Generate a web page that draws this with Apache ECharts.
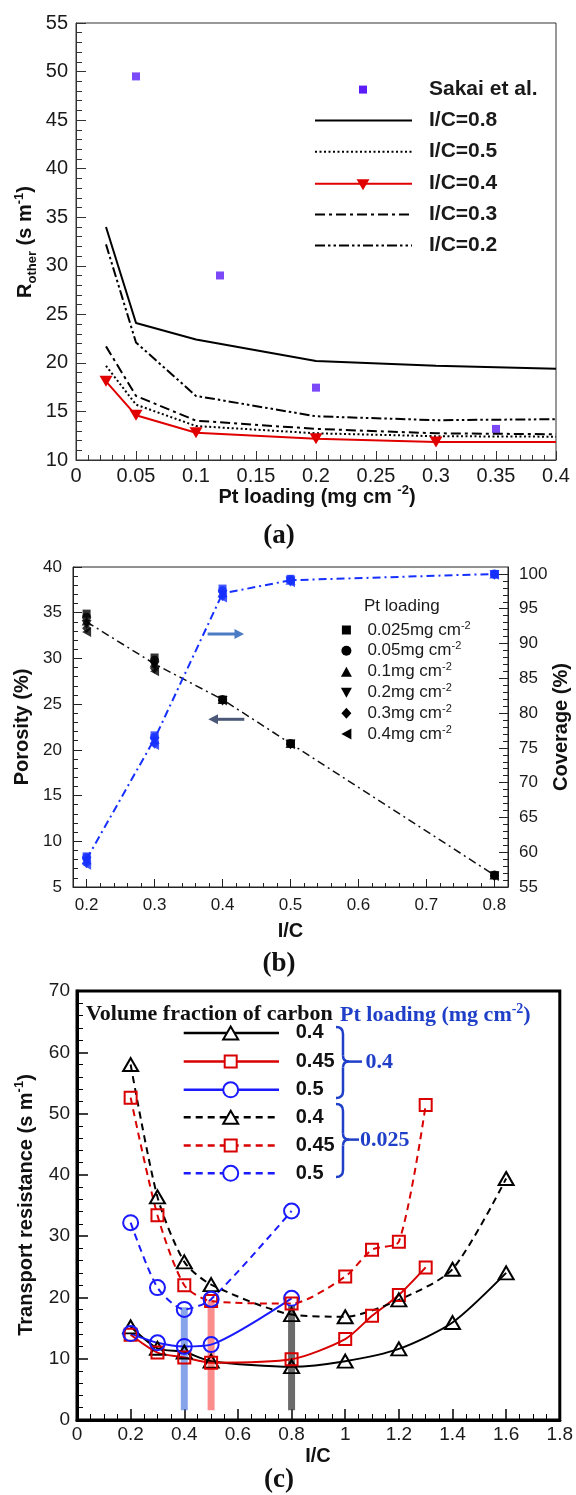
<!DOCTYPE html>
<html><head><meta charset="utf-8">
<script src="https://cdn.jsdelivr.net/npm/echarts@6/dist/echarts.min.js"></script>
<style>html,body{margin:0;padding:0;background:#fff}#c{width:576px;height:1495px}</style>
</head><body><div id="c"></div>
<script>
// ================= Panel (a) data =================
const ptLoadingA = [0.025, 0.05, 0.1, 0.2, 0.3, 0.4];
const icA08 = [34.0, 24.1, 22.4, 20.2, 19.7, 19.4];
const icA05 = [19.7, 15.7, 13.5, 12.75, 12.45, 12.4];
const icA04 = [18.1, 14.6, 12.8, 12.2, 11.85, 11.85];
const icA03 = [21.7, 16.6, 14.05, 13.2, 12.75, 12.65];
const icA02 = [32.2, 22.1, 16.6, 14.5, 14.1, 14.2];
const sakaiX = [0.05, 0.12, 0.2, 0.35];
const sakaiY = [49.5, 29.0, 17.45, 13.2];
const legendA = ['Sakai et al.', 'I/C=0.8', 'I/C=0.5', 'I/C=0.4', 'I/C=0.3', 'I/C=0.2'];

// ================= Panel (b) data =================
const icB = [0.2, 0.3, 0.4, 0.5, 0.8];
const loadingLabelsB = ['0.025', '0.05', '0.1', '0.2', '0.3', '0.4'];
const poro025 = [34.9, 30.1, 25.5, 20.7, 6.3];
const poro05  = [34.5, 29.8, 25.5, 20.7, 6.3];
const poro01  = [34.1, 29.5, 25.5, 20.7, 6.3];
const poro02  = [33.7, 29.2, 25.4, 20.6, 6.2];
const poro03  = [33.3, 28.9, 25.4, 20.6, 6.2];
const poro04  = [32.9, 28.6, 25.4, 20.6, 6.2];
const cov025 = [59.4, 76.8, 97.9, 99.3, 100];
const cov05  = [59.2, 76.5, 97.6, 99.2, 100];
const cov01  = [58.9, 76.2, 97.3, 99.1, 100];
const cov02  = [58.7, 75.9, 97.0, 99.0, 99.9];
const cov03  = [58.4, 75.6, 96.8, 98.9, 99.9];
const cov04  = [58.2, 75.4, 96.6, 98.8, 99.9];
const porosityTrend = [34.0, 29.4, 25.5, 20.7, 6.3];
const coverageTrend = [59.0, 76.3, 97.2, 99.1, 100];
const xTicksB = [0.2, 0.3, 0.4, 0.5, 0.6, 0.7, 0.8];
const xMinorB = [0.22, 0.24, 0.26, 0.28, 0.32, 0.34, 0.36, 0.38, 0.42, 0.44, 0.46, 0.48,
  0.52, 0.54, 0.56, 0.58, 0.62, 0.64, 0.66, 0.68, 0.72, 0.74, 0.76, 0.78];
const yRightTicksB = [55, 60, 65, 70, 75, 80, 85, 90, 95, 100];
const yRightMinorB = [56, 57, 58, 59, 61, 62, 63, 64, 66, 67, 68, 69, 71, 72, 73, 74, 76, 77, 78, 79,
  81, 82, 83, 84, 86, 87, 88, 89, 91, 92, 93, 94, 96, 97, 98, 99];

// ================= Panel (c) data =================
const icCBlack = [0.2, 0.3, 0.4, 0.5, 0.8, 1.0, 1.2, 1.4, 1.6];
const icCRed   = [0.2, 0.3, 0.4, 0.5, 0.8, 1.0, 1.1, 1.2, 1.3];
const icCBlue  = [0.2, 0.3, 0.4, 0.5, 0.8];
const solidBlack = [15.2, 11.7, 11.1, 9.6, 8.7, 9.6, 11.6, 15.9, 24.0];
const solidRed   = [13.9, 11.0, 10.2, 9.35, 9.9, 13.2, 17.0, 20.4, 24.9];
const solidBlue  = [14.1, 12.6, 12.0, 12.3, 19.85];
const dashBlack  = [58.0, 36.4, 25.8, 22.1, 17.2, 16.85, 19.6, 24.6, 39.4];
const dashRed    = [52.6, 33.4, 22.0, 19.4, 19.0, 23.4, 27.8, 29.1, 51.4];
const dashBlue   = [32.2, 21.6, 18.05, 19.7, 34.1];
const markerBars = [[0.4, 1.6, 18.4], [0.5, 1.6, 19.6], [0.8, 1.6, 18.6]];
const legendC = ['0.4', '0.45', '0.5', '0.4', '0.45', '0.5'];

// ================= helpers =================
const SANS = '"Liberation Sans", Arial, sans-serif';
const SERIF = '"Liberation Serif", "Times New Roman", serif';
const zip = (xs, ys) => xs.map((x, i) => [x, ys[i]]);
const DOWN = 'path://M0,0L10,0L5,8.66Z';
const LEFT = 'path://M8.66,0L8.66,10L0,5Z';
const DASHDOT = [10, 4, 3, 4];
const DASHDOTDOT = [10, 3, 2.5, 3, 2.5, 3];
const DOTTED = [2, 2.5];
const RED = '#e00000', SAKAI = '#5b1cf7', BLUEB = '#1530ff';
const CRED = '#d80000', CBLUE = '#1a1aff';
const BRACE = '#1f3fc8';

const G = [];
function gLine(x1, y1, x2, y2, color, w, dash) {
  G.push({type: 'line', z: 100, shape: {x1, y1, x2, y2},
    style: {stroke: color, lineWidth: w, lineDash: dash || null}});
}
function gCurve(x1, y1, cx, cy, x2, y2, color, w) {
  G.push({type: 'bezierCurve', z: 100, shape: {x1, y1, x2, y2, cpx1: cx, cpy1: cy},
    style: {stroke: color, lineWidth: w, fill: null}});
}
function gText(x, y, text, st, rot) {
  G.push({type: 'text', z: 100, x, y, rotation: rot || 0,
    style: Object.assign({text, verticalAlign: 'middle', align: 'left'}, st)});
}
function gSym(kind, cx, cy, w, h, fill, stroke, lw) {
  let el;
  const hw = w / 2, hh = h / 2;
  if (kind === 'rect') el = {type: 'rect', shape: {x: cx - hw, y: cy - hh, width: w, height: h}};
  else if (kind === 'circle') el = {type: 'circle', shape: {cx, cy, r: hw}};
  else {
    let pts;
    if (kind === 'up') pts = [[cx, cy - hh], [cx + hw, cy + hh], [cx - hw, cy + hh]];
    else if (kind === 'down') pts = [[cx - hw, cy - hh], [cx + hw, cy - hh], [cx, cy + hh]];
    else if (kind === 'left') pts = [[cx + hw, cy - hh], [cx + hw, cy + hh], [cx - hw, cy]];
    else pts = [[cx, cy - hh], [cx + hw, cy], [cx, cy + hh], [cx - hw, cy]];
    el = {type: 'polygon', shape: {points: pts}};
  }
  el.z = 101;
  el.style = {fill: fill, stroke: stroke || null, lineWidth: lw || 0};
  G.push(el);
}
const richAxis = {
  b: {fontFamily: SANS, fontWeight: 'bold', fontSize: 20, lineHeight: 26, fill: '#111'},
  sub: {fontFamily: SANS, fontWeight: 'bold', fontSize: 13, lineHeight: 13, verticalAlign: 'bottom', fill: '#111'},
  sup: {fontFamily: SANS, fontWeight: 'bold', fontSize: 13, lineHeight: 13, verticalAlign: 'top', fill: '#111'}
};
const boldTitle = {fontFamily: SANS, fontWeight: 'bold', fontSize: 20, fill: '#111', align: 'center'};
const panelTag = {fontFamily: SERIF, fontWeight: 'bold', fontSize: 27, fill: '#111', align: 'center'};

// ---------- axis titles & panel tags ----------
gText(25.5, 242, '{b|R}{sub|other}{b| (s m}{sup|-1}{b|)}', {rich: richAxis, align: 'center'}, Math.PI / 2);
gText(317, 497, '{b|Pt loading (mg cm }{sup|-2}{b|)}', {rich: richAxis, align: 'center'});
gText(279, 536, '(a)', panelTag);
gText(22, 727, 'Porosity (%)', boldTitle, Math.PI / 2);
gText(561, 727, 'Coverage (%)', boldTitle, Math.PI / 2);
gText(290.5, 931, 'I/C', boldTitle);
gText(279, 964, '(b)', panelTag);
gText(26, 1205, '{b|Transport resistance (s m}{sup|-1}{b|)}', {rich: richAxis, align: 'center'}, Math.PI / 2);
gText(318, 1456, 'I/C', boldTitle);
gText(279, 1480, '(c)', panelTag);

// ---------- legend (a) ----------
const legAY = [89.6, 120.5, 151.7, 183.7, 214.5, 245.4];
const legAText = {fontFamily: SANS, fontWeight: 'bold', fontSize: 21, fill: '#1a1a1a'};
gSym('rect', 363, legAY[0], 8, 8, SAKAI);
gLine(315, legAY[1], 412, legAY[1], '#000', 2);
gLine(315, legAY[2], 412, legAY[2], '#000', 2, DOTTED);
gLine(315, legAY[3], 412, legAY[3], RED, 2);
gSym('down', 363, legAY[3] + 1, 13, 11, RED);
gLine(315, legAY[4], 412, legAY[4], '#000', 2, DASHDOT);
gLine(315, legAY[5], 412, legAY[5], '#000', 2, DASHDOTDOT);
legendA.forEach((t, i) => gText(429, legAY[i], t, legAText));

// ---------- legend (b) ----------
const legBY = [630, 650.7, 671.7, 692.7, 713.3, 734];
const legBKinds = ['rect', 'circle', 'up', 'down', 'diamond', 'left'];
const legBSizes = [[9, 9], [10, 10], [11, 10], [11, 10], [10, 11], [10, 11]];
const richB = {
  t: {fontFamily: SANS, fontSize: 17, lineHeight: 20, fill: '#1a1a1a'},
  s: {fontFamily: SANS, fontSize: 11, lineHeight: 11, verticalAlign: 'top', fill: '#1a1a1a'}
};
gText(364, 606.7, 'Pt loading', {fontFamily: SANS, fontSize: 17, fill: '#1a1a1a'});
loadingLabelsB.forEach((t, i) => {
  gSym(legBKinds[i], 346.4, legBY[i], legBSizes[i][0], legBSizes[i][1], '#000');
  gText(367.4, legBY[i], '{t|' + t + 'mg cm}{s|-2}', {rich: richB});
});
// arrows (b)
gLine(207.6, 634, 236, 634, '#4a7bc4', 3);
G.push({type: 'polygon', z: 100, shape: {points: [[244, 634], [234.5, 629], [234.5, 639]]}, style: {fill: '#4a7bc4'}});
gLine(217, 719.3, 244.3, 719.3, '#4b5878', 3);
G.push({type: 'polygon', z: 100, shape: {points: [[208.3, 719.3], [218, 714.3], [218, 724.3]]}, style: {fill: '#4b5878'}});

// ---------- legend (c) ----------
const legCY = [1032.9, 1061.6, 1089.8, 1117.3, 1145.5, 1173.3];
const legCColors = ['#000', CRED, CBLUE, '#000', CRED, CBLUE];
const legCKinds = ['up', 'rect', 'circle', 'up', 'rect', 'circle'];
const legCSizes = [[15, 13], [12, 12], [15, 15], [15, 13], [12, 12], [15, 15]];
const richC = {
  t: {fontFamily: SERIF, fontWeight: 'bold', fontSize: 22, lineHeight: 26, fill: BRACE},
  s: {fontFamily: SERIF, fontWeight: 'bold', fontSize: 14, lineHeight: 14, verticalAlign: 'top', fill: BRACE}
};
gText(86, 1014, 'Volume fraction of carbon', {fontFamily: SERIF, fontWeight: 'bold', fontSize: 22, fill: '#111'});
gText(340, 1015, '{t|Pt loading (mg cm}{s|-2}{t|)}', {rich: richC});
legendC.forEach((t, i) => {
  gLine(183.7, legCY[i], 279, legCY[i], legCColors[i], 2.5, i >= 3 ? [7, 5] : null);
  gSym(legCKinds[i], 230.7, legCY[i], legCSizes[i][0], legCSizes[i][1], '#fff', legCColors[i], 2);
  gText(295.7, legCY[i], t, {fontFamily: SANS, fontWeight: 'bold', fontSize: 20, fill: '#111'});
});
// braces
function brace(top, tip, bot, xL, xM, xT) {
  gCurve(xL, top, xM, top, xM, top + 7, BRACE, 2.5);
  gLine(xM, top + 7, xM, tip - 6, BRACE, 2.5);
  gCurve(xM, tip - 6, xM, tip, xT, tip, BRACE, 2.5);
  gCurve(xT, tip, xM, tip, xM, tip + 6, BRACE, 2.5);
  gLine(xM, tip + 6, xM, bot - 7, BRACE, 2.5);
  gCurve(xM, bot - 7, xM, bot, xL, bot, BRACE, 2.5);
}
brace(1027, 1061.6, 1098, 336, 343, 349);
brace(1104, 1139.6, 1177, 336, 343, 349);
gLine(349, 1061.6, 362, 1061.6, BRACE, 2.5);
gLine(349, 1139.6, 359, 1139.6, BRACE, 2.5);
gText(365.5, 1062, '0.4', {fontFamily: SERIF, fontWeight: 'bold', fontSize: 22, fill: BRACE});
gText(360, 1140, '0.025', {fontFamily: SERIF, fontWeight: 'bold', fontSize: 22, fill: BRACE});

// ================= axes =================
const lab = (size, margin) => ({fontFamily: SANS, fontSize: size, color: '#1a1a1a', margin});
const xAxis = [
  {gridIndex: 0, type: 'value', min: 0, max: 0.4, interval: 0.05,
   axisLine: {lineStyle: {color: '#333', width: 1}},
   axisTick: {inside: true, length: 9, lineStyle: {color: '#333'}},
   minorTick: {show: true, splitNumber: 5, length: 5, lineStyle: {color: '#333'}},
   axisLabel: lab(20, 6), splitLine: {show: false}},
  {gridIndex: 1, type: 'value', min: 0.18, max: 0.82, position: 'bottom',
   axisLine: {lineStyle: {color: '#222', width: 1}},
   axisTick: {inside: true, length: 8, customValues: xTicksB, lineStyle: {color: '#222'}},
   axisLabel: Object.assign({customValues: xTicksB}, lab(17, 10)), splitLine: {show: false}},
  {gridIndex: 1, type: 'value', min: 0.18, max: 0.82, position: 'bottom',
   axisLine: {show: false},
   axisTick: {inside: true, length: 4, customValues: xMinorB, lineStyle: {color: '#222'}},
   axisLabel: {show: false}, splitLine: {show: false}},
  {gridIndex: 2, type: 'value', min: 0, max: 1.8, interval: 0.2,
   axisLine: {lineStyle: {color: '#000', width: 3}},
   axisTick: {inside: true, length: 11, lineStyle: {color: '#000', width: 1.5}},
   minorTick: {show: true, splitNumber: 4, length: 6, lineStyle: {color: '#000', width: 1}},
   axisLabel: lab(19, 5), splitLine: {show: false}}
];
const yAxis = [
  {gridIndex: 0, type: 'value', min: 10, max: 55, interval: 5,
   axisLine: {show: true, lineStyle: {color: '#333', width: 1}},
   axisTick: {show: true, inside: true, length: 10, lineStyle: {color: '#333'}},
   minorTick: {show: true, splitNumber: 5, length: 6, lineStyle: {color: '#333'}},
   axisLabel: lab(20, 8), splitLine: {show: false}},
  {gridIndex: 1, type: 'value', min: 5, max: 40, interval: 5, position: 'left',
   axisLine: {show: true, lineStyle: {color: '#222', width: 1}},
   axisTick: {show: true, inside: true, length: 9, lineStyle: {color: '#222'}},
   minorTick: {show: true, splitNumber: 5, length: 5, lineStyle: {color: '#222'}},
   axisLabel: lab(17, 11), splitLine: {show: false}},
  {gridIndex: 1, type: 'value', min: 55, max: 101, position: 'right',
   axisLine: {show: true, lineStyle: {color: '#222', width: 1}},
   axisTick: {show: true, inside: true, length: 9, customValues: yRightTicksB, lineStyle: {color: '#222'}},
   axisLabel: Object.assign({customValues: yRightTicksB}, lab(17, 11)), splitLine: {show: false}},
  {gridIndex: 1, type: 'value', min: 55, max: 101, position: 'right',
   axisLine: {show: false},
   axisTick: {show: true, inside: true, length: 5, customValues: yRightMinorB, lineStyle: {color: '#222'}},
   axisLabel: {show: false}, splitLine: {show: false}},
  {gridIndex: 2, type: 'value', min: 0, max: 70, interval: 10,
   axisLine: {show: true, lineStyle: {color: '#000', width: 3}},
   axisTick: {show: true, inside: true, length: 11, lineStyle: {color: '#000', width: 1.5}},
   minorTick: {show: true, splitNumber: 5, length: 6, lineStyle: {color: '#000', width: 1}},
   axisLabel: lab(19, 7), splitLine: {show: false}}
];

// ================= series =================
const series = [];
const lineA = (name, ys, dash) => ({name, type: 'line', xAxisIndex: 0, yAxisIndex: 0,
  data: zip(ptLoadingA, ys), symbol: 'none', lineStyle: {color: '#000', width: 2, type: dash || 'solid'}});
series.push(lineA('I/C=0.8', icA08));
series.push(lineA('I/C=0.5', icA05, DOTTED));
series.push(lineA('I/C=0.3', icA03, DASHDOT));
series.push(lineA('I/C=0.2', icA02, DASHDOTDOT));
series.push({name: 'I/C=0.4', type: 'line', xAxisIndex: 0, yAxisIndex: 0,
  data: ptLoadingA.map((x, i) => i === ptLoadingA.length - 1 ? {value: [x, icA04[i]], symbol: 'none'} : [x, icA04[i]]),
  symbol: DOWN, symbolSize: [13, 11], showSymbol: true,
  itemStyle: {color: RED}, lineStyle: {color: RED, width: 2}});
series.push({name: 'Sakai et al.', type: 'scatter', xAxisIndex: 0, yAxisIndex: 0,
  data: zip(sakaiX, sakaiY), symbol: 'rect', symbolSize: 8, itemStyle: {color: SAKAI}});

// panel (b)
series.push({name: 'Porosity trend', type: 'line', xAxisIndex: 1, yAxisIndex: 1, z: 1,
  data: zip(icB, porosityTrend), symbol: 'none', lineStyle: {color: '#111', width: 1.5, type: [8, 4, 2, 4]}});
series.push({name: 'Coverage trend', type: 'line', xAxisIndex: 1, yAxisIndex: 2, z: 1,
  data: zip(icB, coverageTrend), symbol: 'none', lineStyle: {color: BLUEB, width: 2, type: [8, 4, 2, 4]}});
const shapesB = ['rect', 'circle', 'triangle', DOWN, 'diamond', LEFT];
const sizesB = [8, 9, [10, 9], [10, 9], [9, 10], [9, 10]];
const poroSets = [poro025, poro05, poro01, poro02, poro03, poro04];
const covSets = [cov025, cov05, cov01, cov02, cov03, cov04];
loadingLabelsB.forEach((l, i) => {
  series.push({name: 'Porosity ' + l, type: 'scatter', xAxisIndex: 1, yAxisIndex: 1,
    data: zip(icB, poroSets[i]), symbol: shapesB[i], symbolSize: sizesB[i], itemStyle: {color: '#000'}});
  series.push({name: 'Coverage ' + l, type: 'scatter', xAxisIndex: 1, yAxisIndex: 2,
    data: zip(icB, covSets[i]), symbol: shapesB[i], symbolSize: sizesB[i], itemStyle: {color: BLUEB}});
});

// panel (c)
const barColors = ['rgba(70,115,225,0.65)', 'rgba(250,80,80,0.65)', 'rgba(70,70,70,0.8)'];
markerBars.forEach((b, i) => {
  series.push({name: 'bar' + i, type: 'line', xAxisIndex: 3, yAxisIndex: 4, z: 1,
    data: [[b[0], b[1]], [b[0], b[2]]], symbol: 'none',
    lineStyle: {color: barColors[i], width: 7, cap: 'butt'}});
});
const lineC = (name, xs, ys, color, sym, size, dashed) => ({name, type: 'line', xAxisIndex: 3, yAxisIndex: 4, z: 3,
  data: zip(xs, ys), smooth: 0.25, symbol: sym, symbolSize: size, showSymbol: true,
  itemStyle: {color: 'rgba(255,255,255,0)', borderColor: color, borderWidth: 2},
  lineStyle: {color, width: 2, type: dashed ? [7, 5] : 'solid'}});
series.push(lineC('solid 0.4', icCBlack, solidBlack, '#000', 'triangle', [15, 13], false));
series.push(lineC('solid 0.45', icCRed, solidRed, CRED, 'rect', 12, false));
series.push(lineC('solid 0.5', icCBlue, solidBlue, CBLUE, 'circle', 15, false));
series.push(lineC('dash 0.4', icCBlack, dashBlack, '#000', 'triangle', [15, 13], true));
series.push(lineC('dash 0.45', icCRed, dashRed, CRED, 'rect', 12, true));
series.push(lineC('dash 0.5', icCBlue, dashBlue, CBLUE, 'circle', 15, true));

const chart = echarts.init(document.getElementById('c'), null, {renderer: 'canvas', width: 576, height: 1495});
chart.setOption({
  animation: false,
  backgroundColor: '#fff',
  grid: [
    {left: 76, top: 23, width: 480, height: 437, show: true, borderColor: '#333', borderWidth: 1, containLabel: false},
    {left: 73, top: 567, width: 435, height: 320, show: true, borderColor: '#222', borderWidth: 1, containLabel: false},
    {left: 77, top: 991, width: 483, height: 429, show: true, borderColor: '#000', borderWidth: 3, containLabel: false}
  ],
  xAxis, yAxis, series,
  graphic: {elements: G}
});
</script></body></html>
